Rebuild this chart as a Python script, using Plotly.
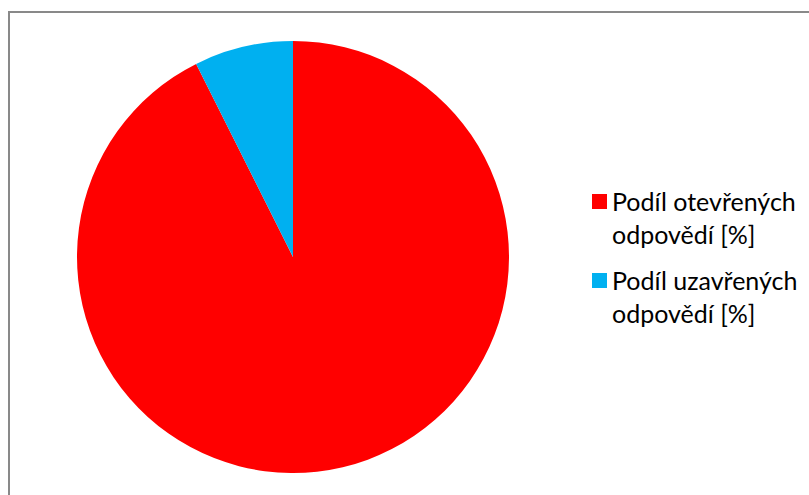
import plotly.graph_objects as go

# Share of answer types in the survey
labels = ["Podíl otevřených<br>odpovědí [%]", "Podíl uzavřených<br>odpovědí [%]"]
values = [92.6, 7.4]
colors = ["#FF0000", "#00B0F0"]

W, H = 809, 495


def px_x(x):
    return x / W


def px_y(y):
    return 1 - y / H


fig = go.Figure(
    go.Pie(
        labels=labels,
        values=values,
        marker=dict(colors=colors, line=dict(width=0)),
        sort=False,
        direction="clockwise",
        rotation=0,
        textinfo="none",
        hoverinfo="label+value",
        showlegend=False,
        domain=dict(x=[px_x(77), px_x(509)], y=[px_y(473), px_y(41)]),
    )
)

# Legend on the right: square swatch next to a two-line label
shapes = [
    # chart area frame (only its top and left edges fall inside the page)
    dict(
        type="rect",
        xref="paper",
        yref="paper",
        x0=px_x(9),
        x1=1.2,
        y0=-0.2,
        y1=px_y(12),
        line=dict(color="#898989", width=2),
        fillcolor="rgba(0,0,0,0)",
    )
]
annotations = []
item_top = 194
item_step = 79
for i, (lab, col) in enumerate(zip(labels, colors)):
    top = item_top + i * item_step
    shapes.append(
        dict(
            type="rect",
            xref="paper",
            yref="paper",
            x0=px_x(592),
            x1=px_x(607),
            y0=px_y(top + 15),
            y1=px_y(top),
            line=dict(width=0),
            fillcolor=col,
        )
    )
    annotations.append(
        dict(
            text=lab,
            xref="paper",
            yref="paper",
            x=px_x(610),
            y=px_y(top - 10),
            xanchor="left",
            yanchor="top",
            align="left",
            showarrow=False,
            font=dict(family="Lato, Carlito, sans-serif", size=25, color="#000000"),
        )
    )

fig.update_layout(
    width=W,
    height=H,
    margin=dict(l=0, r=0, t=0, b=0),
    paper_bgcolor="white",
    plot_bgcolor="white",
    shapes=shapes,
    annotations=annotations,
)

fig.write_html("out.html")
